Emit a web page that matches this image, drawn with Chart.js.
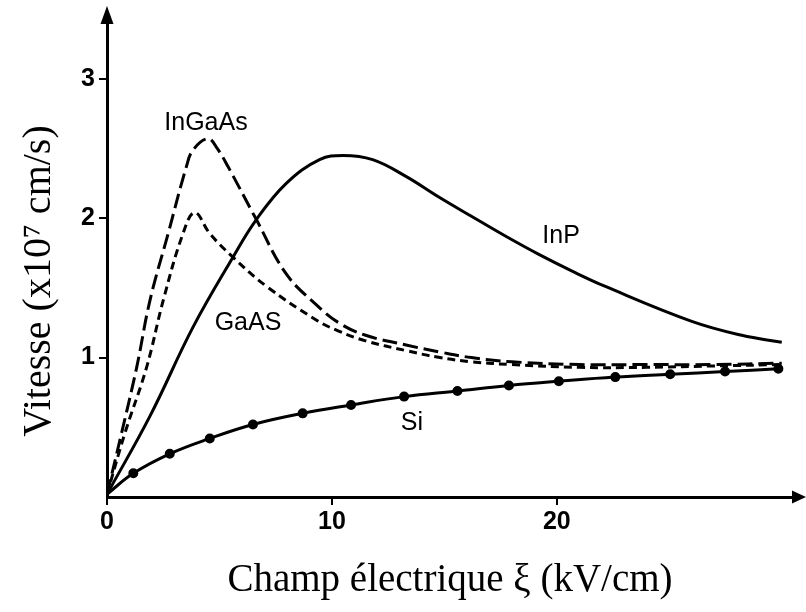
<!DOCTYPE html>
<html>
<head>
<meta charset="utf-8">
<script src="https://cdn.jsdelivr.net/npm/chart.js@4/dist/chart.umd.min.js"></script>
<style>
  html, body { margin: 0; padding: 0; background: #fff; }
  #wrap { width: 806px; height: 612px; }
</style>
</head>
<body>
<div id="wrap"><canvas id="c" width="806" height="612"></canvas></div>
<script>
// champ électrique (kV/cm) et vitesse (x10^7 cm/s)
const inpX    = [0, 1.91, 3.83, 5.6, 6.64, 7.97, 9.45, 10.5, 11.81, 13.29, 14.77, 16.24, 17.73, 19.2, 20.68, 22.16, 26.0, 28.22, 30.0];
const inpY    = [0.02, 0.58, 1.22, 1.72, 1.99, 2.25, 2.42, 2.45, 2.42, 2.30, 2.15, 2.01, 1.87, 1.74, 1.62, 1.51, 1.26, 1.16, 1.11];
const ingaasX = [0, 0.65, 1.32, 1.91, 2.72, 3.53, 3.83, 4.49, 4.9, 5.38, 6.64, 7.97, 9.3, 10.3, 11.5, 13.3, 14.8, 16.2, 18, 21, 24, 27, 30];
const ingaasY = [0.02, 0.46, 0.93, 1.41, 1.89, 2.37, 2.49, 2.57, 2.5, 2.37, 1.99, 1.60, 1.38, 1.25, 1.16, 1.09, 1.04, 1.00, 0.97, 0.95, 0.95, 0.95, 0.96];
const gaasX   = [0, 0.8, 1.76, 2.5, 3.38, 3.9, 4.57, 5.6, 7.1, 9.3, 10.3, 11.5, 13.3, 14.8, 16.2, 18, 21, 24, 27, 30];
const gaasY   = [0.02, 0.46, 0.93, 1.41, 1.89, 2.04, 1.89, 1.72, 1.51, 1.27, 1.19, 1.12, 1.05, 1.00, 0.97, 0.95, 0.93, 0.93, 0.94, 0.95];
const siX     = [0, 1.17, 2.79, 4.57, 6.49, 8.7, 10.85, 13.21, 15.58, 17.87, 20.09, 22.6, 25.04, 27.48, 29.85];
const siY     = [0.02, 0.17, 0.31, 0.42, 0.52, 0.60, 0.66, 0.72, 0.76, 0.80, 0.83, 0.86, 0.88, 0.90, 0.92];

const xTicks = [0, 10, 20];
const yTicks = [1, 2, 3];

// étiquettes des courbes (en unités des axes)
const curveLabels = ['InGaAs', 'GaAS', 'InP', 'Si'];
const labelX = [4.40, 6.27, 20.19, 13.56];
const labelY = [2.68, 1.25, 1.87, 0.53];

const toPts = (xs, ys) => xs.map((x, i) => ({ x: x, y: ys[i] }));

const serif = "'Liberation Serif', 'Times New Roman', serif";
Chart.defaults.font.family = "'Liberation Sans', Arial, sans-serif";
Chart.defaults.color = '#000';

const decor = {
  id: 'decor',
  afterDraw(chart) {
    const { ctx, chartArea: a, scales: { x, y } } = chart;
    ctx.save();
    ctx.fillStyle = '#000';
    // flèches des axes
    ctx.beginPath();
    ctx.moveTo(a.left, a.top - 17);
    ctx.lineTo(a.left - 6.5, a.top + 1);
    ctx.lineTo(a.left + 6.5, a.top + 1);
    ctx.closePath();
    ctx.fill();
    ctx.beginPath();
    ctx.moveTo(a.right + 13, a.bottom);
    ctx.lineTo(a.right - 1, a.bottom - 6.5);
    ctx.lineTo(a.right - 1, a.bottom + 6.5);
    ctx.closePath();
    ctx.fill();
    // titre vertical
    ctx.font = '40px ' + serif;
    ctx.textAlign = 'center';
    ctx.textBaseline = 'middle';
    ctx.translate(39, 281);
    ctx.rotate(-Math.PI / 2);
    ctx.fillText('Vitesse (x10\u2077 cm/s)', 0, 0);
    ctx.restore();
    // noms des courbes
    ctx.save();
    ctx.font = "25px 'Liberation Sans', Arial, sans-serif";
    ctx.fillStyle = '#000';
    ctx.textAlign = 'center';
    ctx.textBaseline = 'middle';
    curveLabels.forEach((t, i) => {
      ctx.fillText(t, x.getPixelForValue(labelX[i]), y.getPixelForValue(labelY[i]));
    });
    ctx.restore();
  }
};

const line = (pts, dash, extra) => Object.assign({
  data: pts,
  borderColor: '#000',
  backgroundColor: '#000',
  borderWidth: 3,
  borderDash: dash,
  pointRadius: 0,
  fill: false,
  tension: 0.4
}, extra || {});

new Chart(document.getElementById('c').getContext('2d'), {
  type: 'line',
  data: {
    datasets: [
      line(toPts(inpX, inpY), [], { label: 'InP' }),
      line(toPts(ingaasX, ingaasY), [15, 6], { label: 'InGaAs' }),
      line(toPts(gaasX, gaasY), [8, 5], { label: 'GaAs' }),
      line(toPts(siX, siY), [], { label: 'Si', pointRadius: siX.map((v, i) => i === 0 ? 0 : 3.5) })
    ]
  },
  options: {
    responsive: false,
    animation: false,
    events: [],
    layout: { padding: { top: 23, right: 13, left: 0, bottom: 0 } },
    plugins: { legend: { display: false }, tooltip: { enabled: false } },
    scales: {
      x: {
        type: 'linear',
        min: 0,
        max: 30.5,
        afterBuildTicks: s => { s.ticks = xTicks.map(v => ({ value: v })); },
        afterFit: s => { s.height = 115; },
        ticks: { font: { size: 25, weight: 'bold' }, padding: 2, maxRotation: 0 },
        grid: { drawOnChartArea: false, drawTicks: true, tickLength: 8, color: '#000', lineWidth: 2 },
        border: { display: true, color: '#000', width: 3 },
        title: {
          display: true,
          text: 'Champ électrique ξ (kV/cm)',
          font: { family: serif, size: 39 },
          padding: { top: 0, bottom: 8 }
        }
      },
      y: {
        type: 'linear',
        min: 0,
        max: 3.4,
        afterBuildTicks: s => { s.ticks = yTicks.map(v => ({ value: v })); },
        afterFit: s => { s.width = 107; },
        ticks: { font: { size: 25, weight: 'bold' }, padding: 4 },
        grid: { drawOnChartArea: false, drawTicks: true, tickLength: 8, color: '#000', lineWidth: 2 },
        border: { display: true, color: '#000', width: 3 }
      }
    }
  },
  plugins: [decor]
});
</script>
</body>
</html>
